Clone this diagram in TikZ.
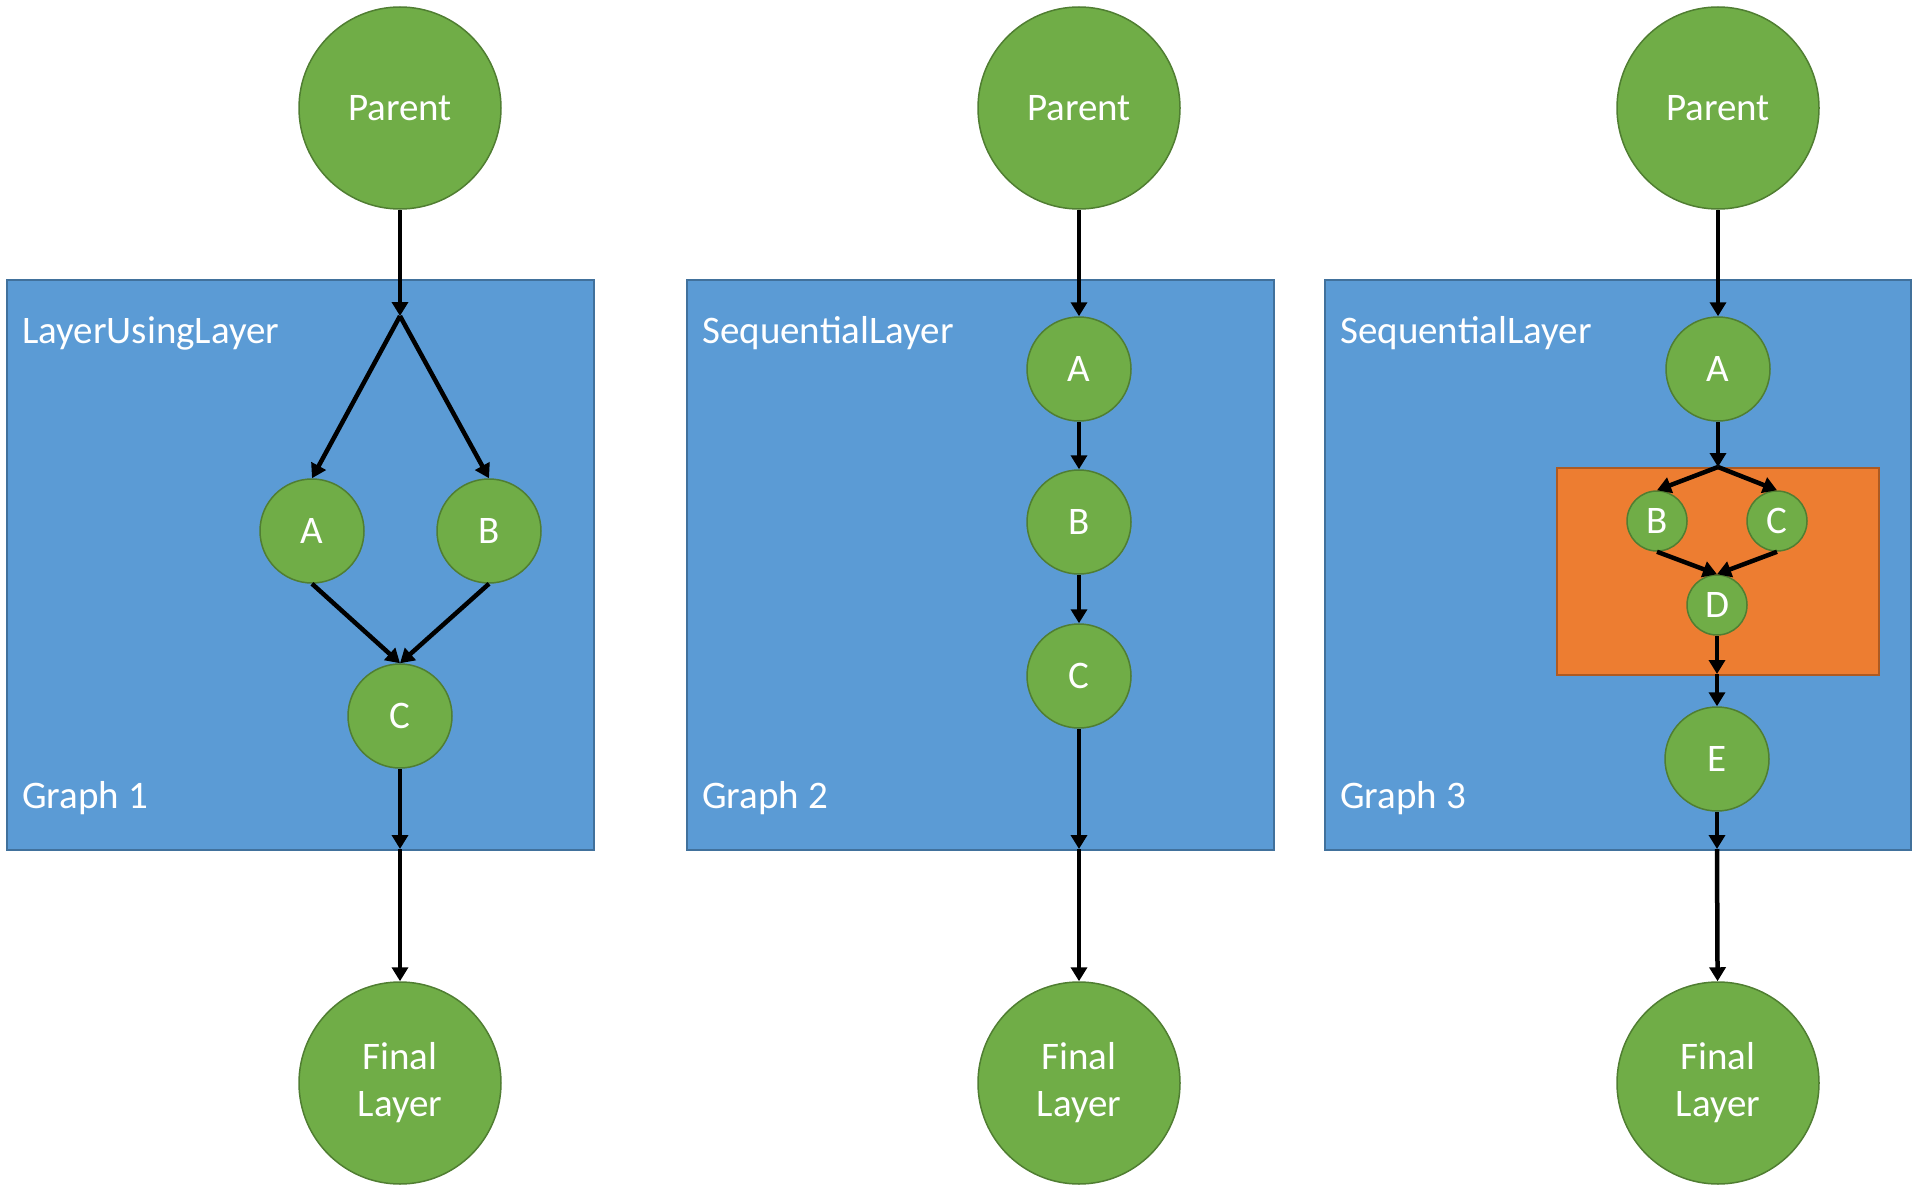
\documentclass[tikz,border=0pt]{standalone}
\usepackage{fontspec}
\setmainfont{Carlito}
\usetikzlibrary{arrows.meta}
\definecolor{gfill}{HTML}{70AD47}
\definecolor{gdraw}{HTML}{507E32}
\definecolor{bfill}{HTML}{5B9BD5}
\definecolor{bdraw}{HTML}{41719C}
\definecolor{ofill}{HTML}{ED7D31}
\definecolor{odraw}{HTML}{AE5A21}
\begin{document}
\begin{tikzpicture}[x=1pt,y=-1pt,
  txt/.style={font=\fontsize{39}{47}\selectfont, text=white},
  bignode/.style={circle, fill=gfill, draw=gdraw, line width=1.5pt, minimum size=202pt, inner sep=0pt, txt, align=center},
  midnode/.style={circle, fill=gfill, draw=gdraw, line width=1.5pt, minimum size=104pt, inner sep=0pt, txt},
  smallnode/.style={circle, fill=gfill, draw=gdraw, line width=1.5pt, minimum size=60pt, inner sep=0pt, txt},
  bluebox/.style={fill=bfill, draw=bdraw, line width=2pt, inner sep=0pt},
  orangebox/.style={fill=ofill, draw=odraw, line width=2pt, inner sep=0pt},
  lbl/.style={txt, anchor=base west, inner sep=0pt},
  arr/.style={line width=4.5pt, -{Triangle[length=14pt,width=16pt]}}
]
\useasboundingbox (0,0) rectangle (1920,1196);

% ---------- Graph 1 ----------
\node[bluebox, minimum width=587pt, minimum height=570pt, anchor=north west] (box1) at (6,279) {};
\node[lbl] (t1) at (22,343) {LayerUsingLayer};
\node[lbl] (g1) at (22,808) {Graph 1};
\node[bignode] (P1) at (400,108) {Parent};
\node[bignode] (F1) at (400,1083) {Final\\Layer};
\node[midnode] (A1) at (312,531) {A};
\node[midnode] (B1) at (489,531) {B};
\node[midnode] (C1) at (400,716) {C};
\coordinate (j1) at (400,316);
\coordinate (e1) at (400,849);
\draw[arr] (P1) -- (j1);
\draw[arr] (j1) -- (A1.north);
\draw[arr] (j1) -- (B1.north);
\draw[arr] (A1.south) -- (C1.north);
\draw[arr] (B1.south) -- (C1.north);
\draw[arr] (C1) -- (e1);
\draw[arr] (e1) -- (F1);

% ---------- Graph 2 ----------
\node[bluebox, minimum width=587pt, minimum height=570pt, anchor=north west] (box2) at (686,279) {};
\node[lbl] (t2) at (702,343) {SequentialLayer};
\node[lbl] (g2) at (702,808) {Graph 2};
\node[bignode] (P2) at (1079,108) {Parent};
\node[bignode] (F2) at (1079,1083) {Final\\Layer};
\node[midnode] (A2) at (1079,369) {A};
\node[midnode] (B2) at (1079,522) {B};
\node[midnode] (C2) at (1079,676) {C};
\coordinate (e2) at (1079,849);
\draw[arr] (P2) -- (A2);
\draw[arr] (A2) -- (B2);
\draw[arr] (B2) -- (C2);
\draw[arr] (C2) -- (e2);
\draw[arr] (e2) -- (F2);

% ---------- Graph 3 ----------
\node[bluebox, minimum width=586pt, minimum height=570pt, anchor=north west] (box3) at (1324,279) {};
\node[lbl] (t3) at (1340,343) {SequentialLayer};
\node[lbl] (g3) at (1340,808) {Graph 3};
\node[orangebox, minimum width=322pt, minimum height=207pt, anchor=north west] (obox) at (1556,467) {};
\node[bignode] (P3) at (1718,108) {Parent};
\node[bignode] (F3) at (1718,1083) {Final\\Layer};
\node[midnode] (A3) at (1718,369) {A};
\node[smallnode] (B3) at (1657,521) {B};
\node[smallnode] (C3) at (1777,521) {C};
\node[smallnode] (D3) at (1717,605) {D};
\node[midnode] (E3) at (1717,759) {E};
\coordinate (j3) at (1718,467);
\coordinate (o3) at (1717,674);
\coordinate (e3) at (1717,849);
\draw[arr] (P3) -- (A3);
\draw[arr] (A3) -- (j3);
\draw[arr] (j3) -- (B3.north);
\draw[arr] (j3) -- (C3.north);
\draw[arr] (B3.south) -- (D3.north);
\draw[arr] (C3.south) -- (D3.north);
\draw[arr] (D3) -- (o3);
\draw[arr] (o3) -- (E3);
\draw[arr] (E3) -- (e3);
\draw[arr] (e3) -- (F3);
\end{tikzpicture}
\end{document}
